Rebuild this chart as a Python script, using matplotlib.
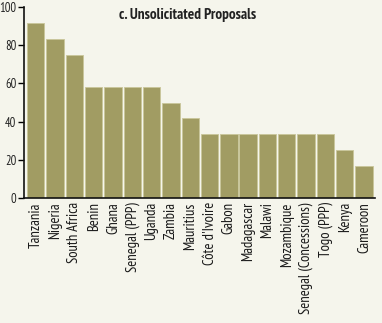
import matplotlib.pyplot as plt
import numpy as np

countries = ["Tanzania", "Nigeria", "South Africa", "Benin", "Ghana", "Senegal (PPP)",
             "Uganda", "Zambia", "Mauritius", "Côte d'Ivoire", "Gabon", "Madagascar",
             "Malawi", "Mozambique", "Senegal (Concessions)", "Togo (PPP)", "Kenya", "Cameroon"]
share = [91.7, 83.3, 75.0, 58.3, 58.3, 58.3, 58.3, 50.0, 41.7, 33.3, 33.3, 33.3,
         33.3, 33.3, 33.3, 33.3, 25.0, 16.7]
yticks = [0, 20, 40, 60, 80, 100]

bg = "#f5f5ec"
bar_color = "#a19c63"
font = ["PT Sans Narrow", "DejaVu Sans"]

fig = plt.figure(figsize=(3.82, 3.23), dpi=100, facecolor=bg)
ax = fig.add_axes([24 / 382, 1 - 198 / 323, 351 / 382, 191 / 323], facecolor=bg)

x = np.arange(len(countries))
ax.bar(x, share, width=0.9, color=bar_color, edgecolor="#c9c69a", linewidth=0.6)

ax.set_xlim(-0.61, 17.57)
ax.set_ylim(0, 100)
ax.set_yticks(yticks)
ax.set_yticklabels([str(t) for t in yticks], family=font, fontsize=9, color="#222222")
ax.set_xticks(x)
ax.set_xticklabels(countries, rotation=90, family=font, fontsize=10.5, color="#1a1a1a")
ax.tick_params(axis="x", length=0, pad=3)
ax.tick_params(axis="y", length=4, width=1, pad=1.5)

for side in ["top", "right"]:
    ax.spines[side].set_visible(False)
for side in ["left", "bottom"]:
    ax.spines[side].set_linewidth(1.2)
    ax.spines[side].set_color("#111111")

ax.text(0.467, 0.995, "c. Unsolicitated Proposals", transform=ax.transAxes, ha="center",
        va="top", family=font, fontsize=11, fontweight="bold", color="#222222")

fig.savefig("out.png", dpi=100, facecolor=bg)
